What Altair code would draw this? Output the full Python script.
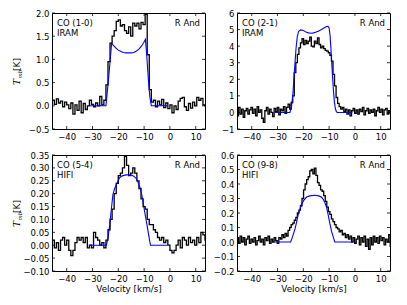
import altair as alt
import numpy as np
import pandas as pd

W, H = 153, 116
XDOM = [-45.7, 13.6]
XTICKS = [-40, -30, -20, -10, 0, 10]
FONT = "DejaVu Sans"

# ---- CO (1-0) IRAM ----
p1_start, p1_step = -46.0, 0.8
p1_obs = [0.08, 0.12, 0.03, 0.15, 0.06, 0.10, -0.02, 0.08, 0.02, -0.06,
          0.06, -0.18, 0.02, -0.10, 0.10, -0.15, 0.05, -0.08, 0.00, 0.12,
          0.03, -0.02, 0.06, 0.00, 0.20, 0.02, 0.12, 0.45, 0.95, 1.35,
          1.50, 1.62, 1.82, 1.85, 1.72, 1.75, 1.62, 1.56, 1.70, 1.50,
          1.78, 1.72, 1.78, 1.66, 1.80, 1.75, 1.97, 1.10, 0.35, 0.08,
          0.12, -0.02, 0.10, 0.02, 0.14, -0.04, 0.06, -0.06, 0.02, -0.15,
          0.00, -0.08, 0.10, 0.16, 0.18, -0.02, -0.10, 0.05, -0.05, 0.08,
          0.00, 0.18, 0.12, 0.16, 0.02, 0.00]
p1_mod_v = [-31, -24.8, -24.0, -23.2, -22.6, -22.0, -21.0, -20.0, -19.0, -18.0,
            -17.0, -16.0, -15.0, -14.0, -13.0, -12.0, -11.0, -10.2, -9.5, -9.0,
            -8.4, -7.8, -7.2, -1]
p1_mod_t = [0, 0, 0.45, 0.95, 1.35, 1.31, 1.25, 1.20, 1.17, 1.15,
            1.14, 1.14, 1.14, 1.15, 1.18, 1.22, 1.29, 1.36, 1.43, 1.10,
            0.60, 0.20, 0, 0]

# ---- CO (2-1) IRAM ----
p2_start, p2_step = -46.0, 0.6
p2_obs = [0.10, -0.20, 0.30, -0.10, 0.20, -0.30, 0.10, 0.25, -0.10, 0.15,
          0.30, -0.05, 0.20, -0.20, 0.35, 0.00, 0.15, -0.35, -0.60, 0.10,
          0.30, -0.10, 0.20, 0.00, -0.25, 0.25, 0.05, 0.30, -0.15, 0.20,
          0.10, 0.35, -0.05, 0.30, 0.50, 0.20, 0.60, 1.00, 2.40, 3.00,
          3.50, 3.90, 4.20, 4.45, 4.10, 4.35, 4.15, 4.30, 4.55, 4.00,
          3.95, 4.30, 4.15, 4.50, 4.10, 3.90, 4.00, 3.85, 3.75, 3.70,
          3.60, 3.45, 3.10, 2.30, 1.60, 0.90, 0.55, 0.35, 0.20, 0.30,
          0.05, 0.20, -0.10, 0.15, -0.20, 0.10, 0.25, -0.05, 0.15, -0.10,
          0.20, 0.05, 0.30, -0.15, 0.10, 0.25, -0.05, 0.15, 0.00, 0.20,
          -0.20, 0.10, 0.30, 0.00, 0.20, -0.15, 0.15, 0.25, -0.10, 0.10,
          -0.05]
p2_mod_v = [-31, -25.2, -24.6, -24.0, -23.4, -22.8, -22.3, -21.8, -21.0, -20.0,
            -19.0, -18.0, -17.0, -16.0, -15.0, -14.0, -13.0, -12.0, -11.0, -10.4,
            -10.0, -9.6, -9.2, -8.8, -8.4, -8.0, -7.6, -7.2, -6.8, -1]
p2_mod_t = [0, 0, 0.30, 1.20, 2.60, 3.90, 4.60, 4.90, 4.98, 4.95,
            4.85, 4.80, 4.78, 4.80, 4.85, 4.92, 5.00, 5.10, 5.18, 5.20,
            5.10, 4.60, 3.60, 2.50, 1.50, 0.70, 0.25, 0.05, 0, 0]

# ---- CO (5-4) HIFI ----
p3_start, p3_step = -46.0, 0.8
p3_obs = [0.00, 0.02, -0.01, 0.01, -0.02, 0.02, 0.03, 0.00, 0.02, -0.02,
          -0.04, -0.02, 0.01, 0.03, 0.02, 0.03, 0.01, 0.03, -0.01, 0.00,
          -0.01, 0.05, 0.03, 0.02, 0.00, 0.01, -0.01, 0.02, 0.06, 0.10,
          0.14, 0.20, 0.24, 0.27, 0.28, 0.30, 0.345, 0.31, 0.27, 0.28,
          0.30, 0.28, 0.25, 0.22, 0.18, 0.15, 0.14, 0.10, 0.08, 0.08,
          0.06, 0.05, 0.03, 0.02, 0.03, 0.01, 0.02, 0.00, -0.02, -0.03,
          -0.02, 0.00, 0.02, -0.01, 0.03, 0.02, 0.00, 0.03, 0.01, 0.02,
          0.00, 0.03, 0.01, 0.05, 0.04, 0.02]
p3_mod_v = [-31, -24.6, -24.0, -23.4, -22.8, -22.1, -21.5, -20.8, -20.0, -19.5,
            -18.5, -17.0, -16.0, -15.0, -14.0, -13.0, -12.4, -11.7, -11.0, -10.4,
            -9.8, -9.1, -8.4, -7.8, -7.5, -1]
p3_mod_t = [0, 0, 0.03, 0.072, 0.13, 0.195, 0.218, 0.234, 0.252, 0.262,
            0.269, 0.273, 0.273, 0.272, 0.268, 0.258, 0.245, 0.227, 0.200, 0.169,
            0.130, 0.091, 0.050, 0.014, 0, 0]

# ---- CO (9-8) HIFI ----
p4_start, p4_step = -46.0, 0.6
p4_obs = [0.01, 0.03, -0.01, 0.04, 0.00, 0.03, -0.02, 0.02, 0.04, -0.01,
          0.02, 0.00, 0.03, -0.02, 0.01, 0.04, 0.00, 0.02, -0.02, 0.03,
          0.01, 0.04, -0.01, 0.02, 0.00, 0.03, 0.01, -0.01, 0.03, 0.02,
          0.05, 0.03, 0.06, 0.04, 0.08, 0.10, 0.12, 0.13, 0.15, 0.17,
          0.20, 0.22, 0.25, 0.30, 0.36, 0.40, 0.43, 0.45, 0.49, 0.50,
          0.47, 0.51, 0.46, 0.41, 0.39, 0.36, 0.35, 0.32, 0.28, 0.24,
          0.21, 0.19, 0.16, 0.14, 0.12, 0.10, 0.09, 0.07, 0.08, 0.05,
          0.06, 0.03, 0.05, 0.02, 0.04, 0.00, 0.03, -0.01, 0.02, 0.04,
          -0.02, 0.03, 0.00, 0.04, -0.03, 0.02, -0.05, 0.03, -0.02, 0.04,
          0.00, 0.03, -0.01, 0.04, 0.01, 0.03, -0.02, 0.02, 0.00, 0.05,
          -0.03]
p4_mod_v = [-31, -24.9, -24.2, -23.2, -22.5, -21.9, -20.7, -19.7, -18.7, -17.5,
            -15.5, -14.0, -13.0, -12.3, -11.6, -11.0, -10.4, -9.7, -9.0, -8.4,
            -7.8, -1]
p4_mod_t = [0, 0, 0.035, 0.09, 0.145, 0.195, 0.26, 0.29, 0.31, 0.318,
            0.322, 0.318, 0.31, 0.295, 0.27, 0.24, 0.19, 0.127, 0.07, 0.035,
            0, 0]

P1_YT = [-0.5, 0.0, 0.5, 1.0, 1.5, 2.0]
P2_YT = [-1, 0, 1, 2, 3, 4, 5, 6]
P3_YT = [-0.10, -0.05, 0.0, 0.05, 0.10, 0.15, 0.20, 0.25, 0.30, 0.35]
P4_YT = [-0.2, -0.1, 0.0, 0.1, 0.2, 0.3, 0.4, 0.5, 0.6]


def panel(start, step, obs_vals, mod_v, mod_t, yticks, yfmt, line, inst, left, bottom):
    v = start + step * np.arange(len(obs_vals))
    obs = pd.DataFrame({"v": v, "T": obs_vals})
    mod = pd.DataFrame({"v": mod_v, "T": mod_t})
    ydom = [yticks[0], yticks[-1]]
    x = alt.X("v:Q", scale=alt.Scale(domain=XDOM, nice=False, zero=False),
              axis=alt.Axis(values=XTICKS, format="d", labelOverlap=False, labelFlush=False,
                            title="Velocity [km/s]" if bottom else None))
    y = alt.Y("T:Q", scale=alt.Scale(domain=ydom, nice=False, zero=False),
              axis=alt.Axis(values=yticks, format=yfmt, labelOverlap=False, labelFlush=False,
                            title=None))
    obs_line = alt.Chart(obs).mark_line(interpolate="step", color="black", strokeWidth=1.3,
                                        clip=True).encode(x=x, y=y)
    mod_line = alt.Chart(mod).mark_line(color="#0000ff", strokeWidth=1.1, clip=True).encode(
        x=x, y=y)
    xt = pd.DataFrame({"v": XTICKS})
    yt = pd.DataFrame({"T": yticks})
    tick_style = dict(color="black", strokeWidth=0.8)
    t_bot = alt.Chart(xt).mark_rule(**tick_style).encode(x=x, y=alt.value(H - 3), y2=alt.value(H))
    t_top = alt.Chart(xt).mark_rule(**tick_style).encode(x=x, y=alt.value(0), y2=alt.value(3))
    t_lft = alt.Chart(yt).mark_rule(**tick_style).encode(y=y, x=alt.value(0), x2=alt.value(3))
    t_rgt = alt.Chart(yt).mark_rule(**tick_style).encode(y=y, x=alt.value(W - 3), x2=alt.value(W))

    def txt(s, xv, yv, **kw):
        return alt.Chart(pd.DataFrame({"s": [s]})).mark_text(**kw).encode(
            text="s:N", x=alt.value(xv), y=alt.value(yv))

    base_txt = dict(font=FONT, fontSize=8.5, color="black", baseline="alphabetic")
    layers = [obs_line, mod_line, t_bot, t_top, t_lft, t_rgt,
              txt(line, 5, 12.5, align="left", **base_txt),
              txt(inst, 5, 23, align="left", **base_txt),
              txt("R And", W - 5, 12.5, align="right", **base_txt)]
    if left:
        layers += [
            txt("T", -32, 72, align="left", angle=270, font="DejaVu Serif", fontStyle="italic",
                fontSize=9, color="black", baseline="alphabetic"),
            txt("mb", -30, 65.5, align="left", angle=270, font="DejaVu Serif", fontStyle="italic",
                fontSize=5.5, color="black", baseline="alphabetic"),
            txt("[K]", -32, 58, align="left", angle=270, font=FONT, fontSize=9,
                color="black", baseline="alphabetic"),
        ]
    return alt.layer(*layers).properties(width=W, height=H)


c1 = panel(p1_start, p1_step, p1_obs, p1_mod_v, p1_mod_t, P1_YT, ".1f", "CO (1-0)", "IRAM", True, False)
c2 = panel(p2_start, p2_step, p2_obs, p2_mod_v, p2_mod_t, P2_YT, "d", "CO (2-1)", "IRAM", False, False)
c3 = panel(p3_start, p3_step, p3_obs, p3_mod_v, p3_mod_t, P3_YT, ".2f", "CO (5-4)", "HIFI", True, True)
c4 = panel(p4_start, p4_step, p4_obs, p4_mod_v, p4_mod_t, P4_YT, ".1f", "CO (9-8)", "HIFI", False, True)

chart = alt.concat(
    c1, c2, c3, c4, columns=2,
    spacing={"row": 26, "column": 32}, bounds="flush",
).properties(
    padding={"left": 4, "top": 0, "right": 5, "bottom": 5},
    background="white",
).configure_view(
    stroke="black", strokeWidth=1
).configure_axis(
    ticks=False, domain=False, grid=False, labelOverlap=False, labelFlush=False,
    labelPadding=3, labelFontSize=8.5, labelFont=FONT, labelColor="black",
    titleFont=FONT, titleFontSize=8.8, titleFontWeight="normal", titleColor="black",
    titlePadding=2,
)

chart.save("out.html", embed_options={"renderer": "svg", "actions": False})
